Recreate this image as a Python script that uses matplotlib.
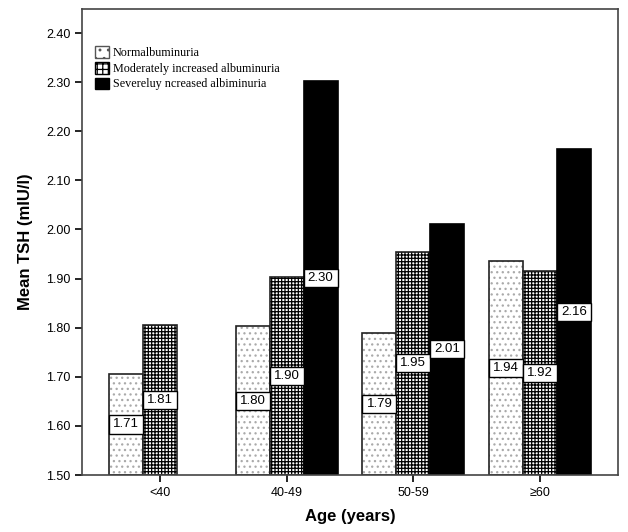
import numpy as np
import matplotlib.pyplot as plt
from matplotlib.patches import Patch, Rectangle

plt.rcParams['font.family'] = ['Liberation Sans', 'DejaVu Sans']

# Data
groups = ['<40', '40-49', '50-59', '≥60']
series = ['Normalbuminuria', 'Moderately increased albuminuria',
          'Severeluy ncreased albiminuria']
normal = [1.706, 1.803, 1.789, 1.936]
moderate = [1.806, 1.904, 1.955, 1.915]
severe = [np.nan, 2.303, 2.012, 2.164]
labels_n = ['1.71', '1.80', '1.79', '1.94']
labels_m = ['1.81', '1.90', '1.95', '1.92']
labels_s = ['', '2.30', '2.01', '2.16']

base = 1.5
w = 0.268
x = np.arange(len(groups))

fig = plt.figure(figsize=(6.28, 5.32), dpi=100)
ax = fig.add_axes([0.1306, 0.1071, 0.8535, 0.876])

plt.rcParams['hatch.linewidth'] = 0.9

def draw(xpos, vals, face, hatch, hcol):
    h = np.array(vals) - base
    if hatch:
        ax.bar(xpos, h, w, bottom=base, color=face, hatch=hatch,
               edgecolor=hcol, linewidth=0)
        ax.bar(xpos, h, w, bottom=base, fill=False, edgecolor='#222222',
               linewidth=1.2)
    else:
        ax.bar(xpos, h, w, bottom=base, color=face, edgecolor='black',
               linewidth=1.2)

draw(x - w, normal, 'white', '...', '#aaaaaa')
draw(x, moderate, 'white', '+++++', 'black')
draw(x + w, severe, 'black', None, None)

# value boxes span the bar width, centred at half the bar height
box_h = 0.037
for xs, vals, labs in [(x - w, normal, labels_n), (x, moderate, labels_m),
                       (x + w, severe, labels_s)]:
    for xi, v, lab in zip(xs, vals, labs):
        if lab:
            yc = (v + base) / 2
            ax.add_patch(Rectangle((xi - w / 2, yc - box_h / 2), w, box_h,
                                   facecolor='white', edgecolor='black',
                                   linewidth=1.0, zorder=3))
            ax.text(xi, yc, lab, ha='center', va='center', fontsize=9.5,
                    zorder=4)

ax.set_xlim(-0.616, 3.616)
ax.set_ylim(1.5, 2.449)
yt = np.arange(1.5, 2.41, 0.1)
ax.set_yticks(yt)
ax.set_yticklabels([f'{v:.2f}' for v in yt])
ax.set_xticks(x)
ax.set_xticklabels(groups)
ax.tick_params(axis='both', labelsize=9, length=5, width=1.2, direction='out')
for s in ax.spines.values():
    s.set_color('#444444')
    s.set_linewidth(1.2)

ax.set_xlabel('Age (years)', fontsize=12, fontweight='bold', labelpad=7)
ax.set_ylabel('Mean TSH (mIU/l)', fontsize=12, fontweight='bold', labelpad=9)

handles = [Patch(facecolor='white', edgecolor='#555555', hatch='..'),
           Patch(facecolor='white', edgecolor='black', hatch='+++'),
           Patch(facecolor='black', edgecolor='black')]
ax.legend(handles, series, loc='upper left', bbox_to_anchor=(0.015, 0.93),
          frameon=False, prop={'family': 'Liberation Serif', 'size': 8.7},
          handlelength=1.2, handleheight=1.1, handletextpad=0.3,
          labelspacing=0.22, borderaxespad=0)

fig.savefig('out.png', dpi=100)
